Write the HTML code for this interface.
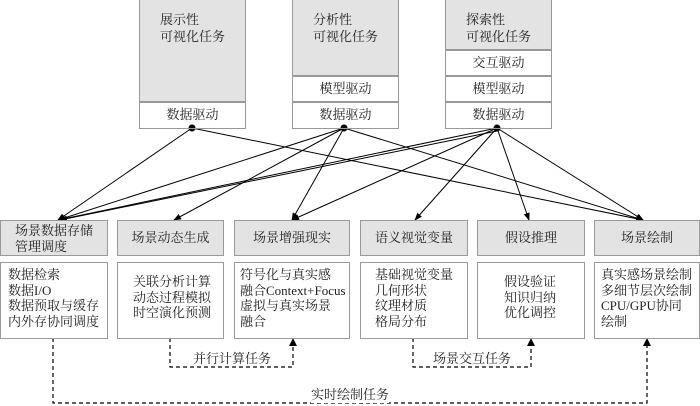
<!DOCTYPE html>
<html><head><meta charset="utf-8"><style>
body{margin:0;width:700px;height:406px;background:#fff;position:relative;overflow:hidden;font-family:"Liberation Serif","Noto Serif CJK SC","Noto Sans CJK SC",serif;color:#222}
.b{position:absolute;box-sizing:border-box;border:1.5px solid #999;font-size:13px}
.g{background:#e3e3e3}
.c{text-align:center}
</style></head><body>
<svg width="700" height="406" style="position:absolute;left:0;top:0">
<defs><marker id="a" markerWidth="8" markerHeight="8" refX="7" refY="4" orient="auto" markerUnits="userSpaceOnUse"><path d="M0,1 L8,4 L0,7z" fill="#000"/></marker></defs>
<g stroke="#000" stroke-width="1" fill="none" marker-end="url(#a)">
<line x1="192" y1="128" x2="58" y2="220"/>
<line x1="192" y1="128" x2="643" y2="220"/>
<line x1="344" y1="128" x2="58" y2="220"/>
<line x1="344" y1="128" x2="174" y2="220"/>
<line x1="344" y1="128" x2="292" y2="220"/>
<line x1="344" y1="128" x2="643" y2="220"/>
<line x1="497" y1="128" x2="58" y2="220"/>
<line x1="497" y1="131" x2="60" y2="220"/>
<line x1="497" y1="128" x2="292" y2="220"/>
<line x1="497" y1="128" x2="415" y2="220"/>
<line x1="497" y1="128" x2="529" y2="220"/>
<line x1="497" y1="128" x2="643" y2="220"/>
</g>
<g fill="#000"><circle cx="192" cy="128" r="3.5"/><circle cx="344" cy="128" r="3.5"/><circle cx="497" cy="128" r="3.5"/></g>
<g stroke="#000" stroke-width="1.2" fill="none" stroke-dasharray="4,3">
<polyline points="53,338 53,403 647,403 647,345"/>
<polyline points="170,338 170,367 293,367 293,345"/>
<polyline points="413,338 413,367 531,367 531,345"/>
</g>
<g fill="#000"><path d="M643,346 L647,338 L651,346z"/><path d="M289,346 L293,338 L297,346z"/><path d="M527,346 L531,338 L535,346z"/></g>
</svg>
<!-- top boxes -->
<div class="b g" style="left:139px;top:-2px;width:107px;height:105px;padding:12px 0 0 20px;line-height:17px">展示性<br>可视化任务</div>
<div class="b c" style="left:139px;top:101px;width:107px;height:28px;line-height:25px">数据驱动</div>
<div class="b g" style="left:292px;top:-2px;width:107px;height:79px;padding:12px 0 0 20px;line-height:17px">分析性<br>可视化任务</div>
<div class="b c" style="left:292px;top:75px;width:107px;height:28px;line-height:25px">模型驱动</div>
<div class="b c" style="left:292px;top:101px;width:107px;height:28px;line-height:25px">数据驱动</div>
<div class="b g" style="left:445px;top:-2px;width:107px;height:53px;padding:12px 0 0 20px;line-height:17px">探索性<br>可视化任务</div>
<div class="b c" style="left:445px;top:49px;width:107px;height:28px;line-height:25px">交互驱动</div>
<div class="b c" style="left:445px;top:75px;width:107px;height:28px;line-height:25px">模型驱动</div>
<div class="b c" style="left:445px;top:101px;width:107px;height:28px;line-height:25px">数据驱动</div>
<!-- bottom headers -->
<div class="b g" style="left:0;top:220px;width:108px;height:36px;padding:2px 0 0 14px;line-height:16px">场景数据存储<br>管理调度</div>
<div class="b g c" style="left:117px;top:220px;width:107px;height:36px;line-height:33px">场景动态生成</div>
<div class="b g c" style="left:234px;top:220px;width:116px;height:36px;line-height:33px">场景增强现实</div>
<div class="b g c" style="left:360px;top:220px;width:108px;height:36px;line-height:33px">语义视觉变量</div>
<div class="b g c" style="left:477px;top:220px;width:108px;height:36px;line-height:33px">假设推理</div>
<div class="b g c" style="left:594px;top:220px;width:106px;height:36px;line-height:33px">场景绘制</div>
<!-- content -->
<div class="b" style="left:0;top:262px;width:108px;height:77px;padding:4px 0 0 7px;line-height:15.5px">数据检索<br>数据I/O<br>数据预取与缓存<br>内外存协同调度</div>
<div class="b" style="left:117px;top:262px;width:107px;height:77px;padding:11px 0 0 15px;line-height:15.5px">关联分析计算<br>动态过程模拟<br>时空演化预测</div>
<div class="b" style="left:234px;top:262px;width:116px;height:77px;padding:4px 0 0 5px;line-height:15.5px">符号化与真实感<br>融合Context+Focus<br>虚拟与真实场景<br>融合</div>
<div class="b" style="left:360px;top:262px;width:108px;height:77px;padding:4px 0 0 14px;line-height:15.5px">基础视觉变量<br>几何形状<br>纹理材质<br>格局分布</div>
<div class="b" style="left:477px;top:262px;width:108px;height:77px;padding:11px 0 0 26px;line-height:15.5px">假设验证<br>知识归纳<br>优化调控</div>
<div class="b" style="left:594px;top:262px;width:106px;height:77px;padding:4px 0 0 6px;line-height:15.5px">真实感场景绘制<br>多细节层次绘制<br>CPU/GPU协同<br>绘制</div>
<div style="position:absolute;left:193px;top:348px;font-size:13px">并行计算任务</div>
<div style="position:absolute;left:433px;top:348px;font-size:13px">场景交互任务</div>
<div style="position:absolute;left:311px;top:384px;font-size:13px;background:#fff">实时绘制任务</div>
</body></html>
